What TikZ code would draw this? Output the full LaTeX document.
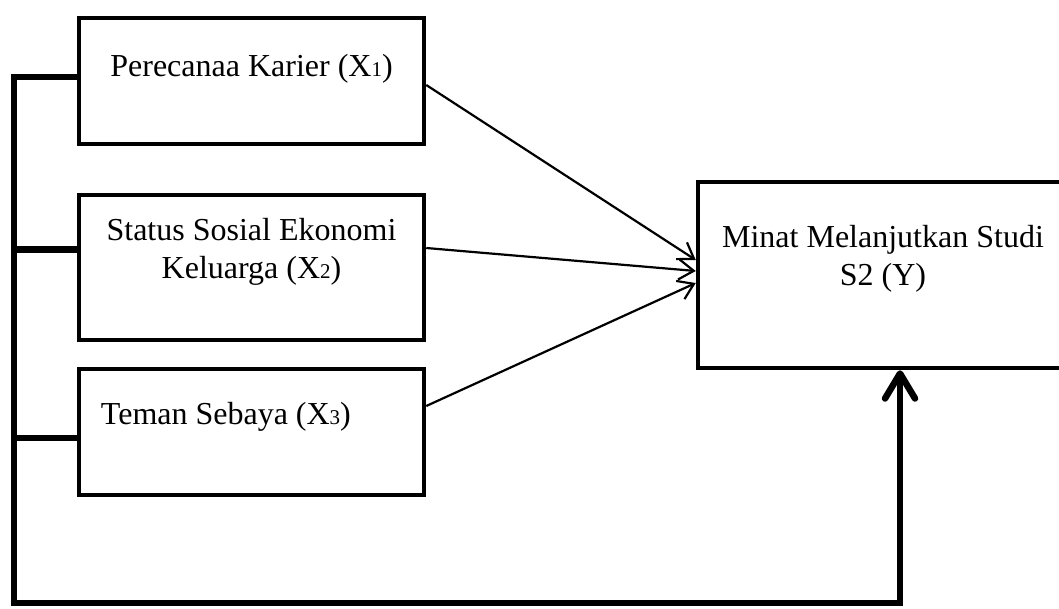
\documentclass[tikz,border=0pt]{standalone}
\usepackage{fontspec}
\setmainfont{Liberation Serif}
\usetikzlibrary{arrows.meta, positioning, calc}
\newcommand{\idx}[1]{{\fontsize{21}{21}\selectfont #1}}

\begin{document}
\begin{tikzpicture}[
  x=1pt,y=-1pt,
  font=\fontsize{32}{38}\selectfont,
  var/.style={draw,line width=4.5pt,minimum width=345pt,inner sep=0pt},
  txt/.style={align=center,inner sep=0pt},
  arr/.style={-{Straight Barb[length=15pt,width=20pt]},line width=2.2pt},
  spine/.style={line width=6.5pt},
  up/.style={-{Straight Barb[round,length=25pt,width=30pt]},line width=6.5pt,line join=miter}
]
  \useasboundingbox (0,0) rectangle (1059,608);

  \node[var,minimum height=126pt] (karier) at (251.5,81) {};
  \node[txt,yshift=12pt] (karierT) at (karier.center) {Perecanaa Karier (X\idx{1})};
  \node[var,minimum height=145pt] (sosial) at (251.5,267.5) {};
  \node[txt,yshift=16pt] (sosialT) at (sosial.center) {Status Sosial Ekonomi\\Keluarga (X\idx{2})};
  \node[var,minimum height=126pt] (teman) at (251.5,432) {};
  \node[txt,anchor=west] (temanT) at ([xshift=24pt,yshift=15pt]teman.west) {Teman Sebaya (X\idx{3})};
  \node[var,minimum width=377pt,minimum height=186pt] (minat) at (886.5,275) {};
  \node[txt,xshift=-3.5pt,yshift=16pt] (minatT) at (minat.center) {Minat Melanjutkan Studi\\S2 (Y)};

  \coordinate (corner) at (14,603);

  \draw[up] ([yshift=4pt]karier.west) -| (corner) -| ([xshift=13.5pt]minat.south);
  \draw[spine] ([yshift=18pt]sosial.west) -- ++(-65,0);
  \draw[spine] ([yshift=-6pt]teman.west) -- ++(-65,0);

  \draw[arr] ([yshift=-4pt]karier.east) -- ([yshift=15pt]minat.west);
  \draw[arr] ([yshift=19.5pt]sosial.east) -- ([yshift=4pt]minat.west);
  \draw[arr] ([yshift=26pt]teman.east) -- ([yshift=-8pt]minat.west);
\end{tikzpicture}
\end{document}
